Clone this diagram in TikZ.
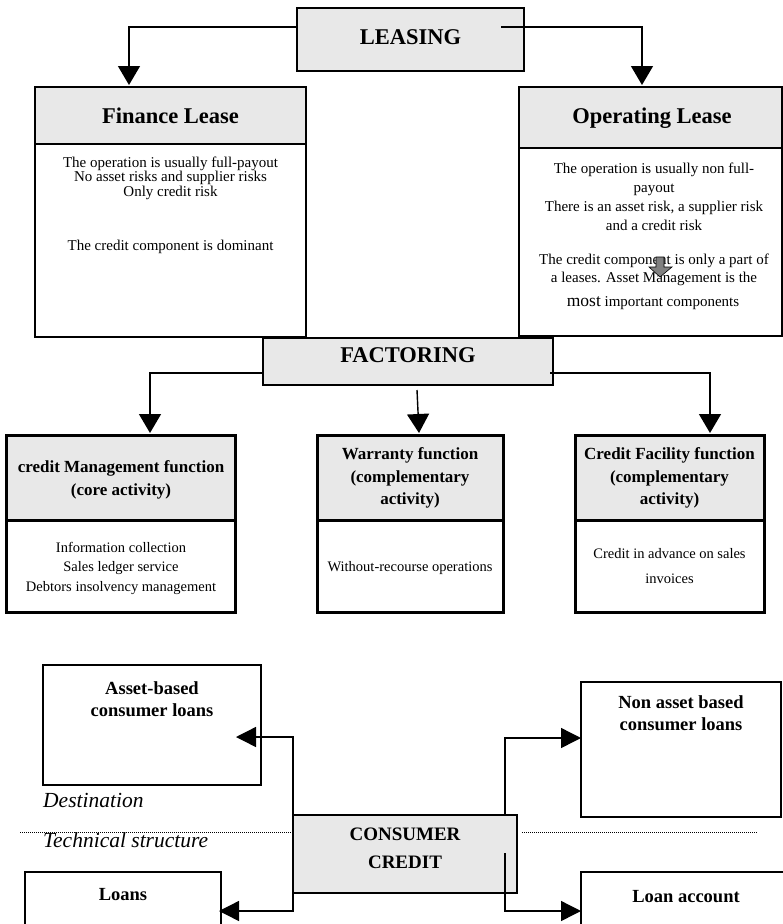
\documentclass[tikz,border=0pt]{standalone}
\usepackage{fontspec}
\setmainfont{Liberation Serif}
\usetikzlibrary{arrows.meta}
\definecolor{boxgray}{RGB}{232,232,232}
\definecolor{arrowgray}{RGB}{128,128,128}
\begin{document}
\begin{tikzpicture}[x=1pt,y=-1pt,
  ln/.style={line width=1.4pt},
  arr/.style={line width=1.4pt,-{Triangle[length=19pt,width=22pt]}},
  arrs/.style={line width=1.4pt,-{Triangle[length=20pt,width=20pt]}},
  boxbase/.style={rectangle,inner sep=0pt,draw=black},
  graybox/.style={boxbase,fill=boxgray,line width=1.4pt},
  whitebox/.style={boxbase,fill=white,line width=1.4pt},
  txt/.style={inner sep=0pt,align=center},
  bigtitle/.style={txt,font=\bfseries\fontsize{22.5}{25}\selectfont},
  subtitle/.style={txt,font=\bfseries\fontsize{17}{22.5}\selectfont},
  cctitle/.style={txt,font=\bfseries\fontsize{18.5}{22}\selectfont},
  body/.style={txt,font=\fontsize{15}{19}\selectfont},
  side/.style={inner sep=0pt,anchor=west,font=\itshape\fontsize{21.5}{24}\selectfont},
]
\useasboundingbox (0,0) rectangle (783,924);

% ---------------- LEASING ----------------
\node[graybox,minimum width=227pt,minimum height=63pt] (leasing) at (410.5,39.5) {};
\node[bigtitle] (tleasing) at (410.5,37) {LEASING};
\coordinate (lA) at (297,27);
\coordinate (lB) at (129,85);
\coordinate (lC) at (501,27);
\coordinate (lD) at (642,85);
\draw[arr] (lA) -| (lB);
\draw[arr] (lC) -| (lD);

% ---------------- Finance Lease ----------------
\node[whitebox,line width=2pt,minimum width=271pt,minimum height=193pt] (finbody) at (170.5,240.5) {};
\node[graybox,line width=2pt,minimum width=271pt,minimum height=57pt] (finhead) at (170.5,115.5) {};
\node[bigtitle] (tfin) at (170.5,116) {Finance Lease};
\node[body,font=\fontsize{15}{14.5}\selectfont] (finb1) at (170.5,178) {The operation is usually full-payout\\No asset risks and supplier risks\\Only credit risk};
\node[body] (finb2) at (170.5,247) {The credit component is dominant};

% ---------------- Operating Lease ----------------
\node[whitebox,line width=2pt,minimum width=263pt,minimum height=188pt] (opbody) at (650.5,242) {};
\node[graybox,line width=2pt,minimum width=263pt,minimum height=61pt] (ophead) at (650.5,117.5) {};
\node[bigtitle] (top) at (652,118.5) {Operating Lease};
\node[body] (opb1) at (654,197) {The operation is usually non full-\\payout\\There is an asset risk, a supplier risk\\and a credit risk};
\node[body,font=\fontsize{15}{18}\selectfont] (opb2) at (654,270) {The credit component is only a part of\\a leases. Asset Management is the};
\node[body] (opb3) at (653,303) {{\fontsize{17.5}{19}\selectfont most} important components};
\draw[fill=arrowgray,line width=0.6pt] (656,257) -- (664,257) -- (664,267) -- (672,267) -- (660,277) -- (649,267) -- (656,267) -- cycle;

% ---------------- FACTORING ----------------
\node[graybox,minimum width=290pt,minimum height=47pt] (fact) at (408,361.5) {};
\node[bigtitle] (tfact) at (408,355) {FACTORING};
\coordinate (fA) at (263,373);
\coordinate (fB) at (150,433);
\coordinate (fC) at (550,373);
\coordinate (fD) at (710,433);
\coordinate (fE) at (417,390);
\coordinate (fF) at (419,433);
\draw[arr] (fA) -| (fB);
\draw[arr] (fC) -| (fD);
\draw[arr] (fE) -- (fF);

% ---------------- three function boxes ----------------
\node[whitebox,line width=3pt,minimum width=229pt,minimum height=92pt] (b1body) at (121,566) {};
\node[graybox,line width=3pt,minimum width=229pt,minimum height=85pt] (b1head) at (121,477.5) {};
\node[subtitle] (tb1) at (121,480) {credit Management function\\(core activity)};
\node[body,font=\fontsize{14.5}{19.5}\selectfont] (bb1) at (121,568) {Information collection\\Sales ledger service\\Debtors insolvency management};

\node[whitebox,line width=3pt,minimum width=186pt,minimum height=92pt] (b2body) at (410,566) {};
\node[graybox,line width=3pt,minimum width=186pt,minimum height=85pt] (b2head) at (410,477.5) {};
\node[subtitle] (tb2) at (410,478) {Warranty function\\(complementary\\activity)};
\node[body,font=\fontsize{14.5}{19.5}\selectfont] (bb2) at (410,568) {Without-recourse operations};

\node[whitebox,line width=3pt,minimum width=189pt,minimum height=92pt] (b3body) at (669.5,566) {};
\node[graybox,line width=3pt,minimum width=189pt,minimum height=85pt] (b3head) at (669.5,477.5) {};
\node[subtitle] (tb3) at (669.5,478) {Credit Facility function\\(complementary\\activity)};
\node[body,font=\fontsize{14.5}{25}\selectfont] (bb3) at (669.5,566) {Credit in advance on sales\\invoices};

% ---------------- CONSUMER CREDIT ----------------
\node[whitebox,minimum width=218pt,minimum height=120pt] (asset) at (152,725) {};
\node[cctitle] (tasset) at (152,699) {Asset-based\\consumer loans};
\node[whitebox,minimum width=200pt,minimum height=135pt] (nonasset) at (681,749.5) {};
\node[cctitle] (tnonasset) at (681,713) {Non asset based\\consumer loans};

\node[side] (dest) at (43,800) {Destination};
\node[side] (tech) at (43,840) {Technical structure};
\coordinate (dA) at (20,832);
\coordinate (dB) at (291,832);
\coordinate (dC) at (522,832);
\coordinate (dD) at (757,832);
\draw[densely dotted,line width=1pt] (dA) -- (dB);
\draw[densely dotted,line width=1pt] (dC) -- (dD);

\node[graybox,minimum width=224pt,minimum height=78pt] (cc) at (405,854) {};
\node[cctitle,font=\bfseries\fontsize{19}{28}\selectfont] (tcc) at (405,848) {CONSUMER\\CREDIT};

\node[whitebox,minimum width=196pt,minimum height=80pt] (loans) at (123,912) {};
\node[cctitle] (tloans) at (123,895) {Loans};
\node[whitebox,minimum width=204pt,minimum height=80pt] (loanacc) at (683,912) {};
\node[cctitle] (tloanacc) at (686,897) {Loan account};

\coordinate (cA) at (293,815);
\coordinate (cB) at (236,737);
\coordinate (cC) at (293,893);
\coordinate (cD) at (219,911);
\coordinate (cE) at (505,815);
\coordinate (cF) at (581,738);
\coordinate (cG) at (505,853);
\coordinate (cH) at (581,911);
\draw[arrs] (cA) |- (cB);
\draw[arrs] (cC) |- (cD);
\draw[arrs] (cE) |- (cF);
\draw[arrs] (cG) |- (cH);
\end{tikzpicture}
\end{document}
